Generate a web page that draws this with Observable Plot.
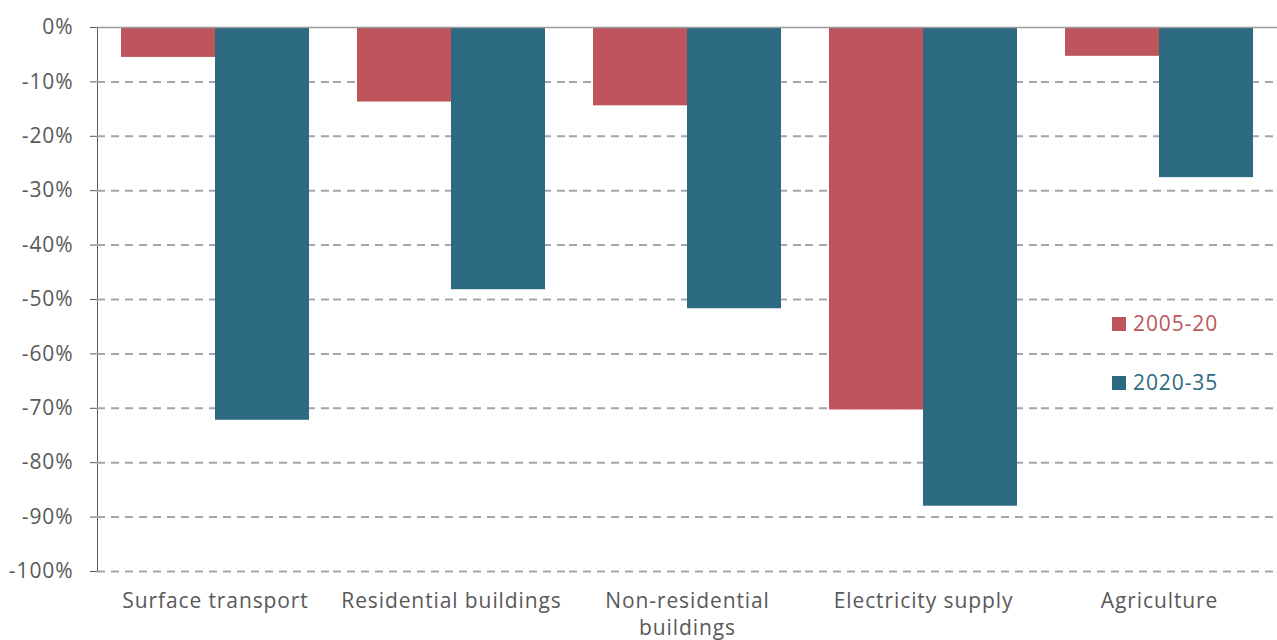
<!DOCTYPE html>
<html>
<head>
<meta charset="utf-8">
<script src="https://cdn.jsdelivr.net/npm/d3@7"></script>
<script src="https://cdn.jsdelivr.net/npm/@observablehq/plot@0.6"></script>
<style>
  html, body { margin: 0; padding: 0; background: #fff; }
  #wrap { position: relative; width: 1277px; height: 640px; }
  #wrap svg text { letter-spacing: 0.9px; }
  .legend { position: absolute; left: 1112px; font-family: "Open Sans", sans-serif; font-size: 21px; letter-spacing: 0.9px; display: flex; align-items: center; line-height: 1; }
  .legend span.sw { display: inline-block; width: 14px; height: 14px; margin-right: 7px; }
</style>
</head>
<body>
<div id="wrap"></div>
<script>
const categories = ["Surface transport", "Residential buildings", "Non-residential buildings", "Electricity supply", "Agriculture"];
const categoryLabels = ["Surface transport", "Residential buildings", "Non-residential\nbuildings", "Electricity supply", "Agriculture"];
const series = ["2005-20", "2020-35"];
const values2005_20 = [-5.5, -13.7, -14.4, -70.3, -5.3];
const values2020_35 = [-72.2, -48.2, -51.7, -88.0, -27.6];
const yTicks = [0, -10, -20, -30, -40, -50, -60, -70, -80, -90, -100];
const colors = ["#BE555D", "#2C6A82"];

const data = [];
categories.forEach((c, i) => {
  data.push({category: c, series: series[0], value: values2005_20[i]});
  data.push({category: c, series: series[1], value: values2020_35[i]});
});
const labelOf = new Map(categories.map((c, i) => [c, categoryLabels[i]]));

const chart = Plot.plot({
  width: 1277,
  height: 640,
  marginLeft: 96,
  marginRight: 0,
  marginTop: 27,
  marginBottom: 69,
  style: {fontFamily: "'Open Sans', sans-serif", fontSize: "21px", color: "#595959", background: "#fff"},
  fx: {domain: categories, padding: 0, label: null},
  x: {domain: series, paddingInner: 0, paddingOuter: 0.25, axis: null},
  y: {domain: [-100, 0], ticks: yTicks, tickFormat: d => d + "%", label: null, tickSize: 7, tickPadding: 17, line: true},
  color: {domain: series, range: colors},
  marks: [
    Plot.ruleY(yTicks.filter(d => d !== 0), {stroke: "#a6a6a6", strokeWidth: 2, strokeDasharray: "8,6", facetAnchor: null}),
    Plot.barY(data, {fx: "category", x: "series", y1: 0, y2: "value", fill: "series"}),
    Plot.ruleY([0], {stroke: "#9a9a9a", strokeWidth: 1.5}),
    Plot.axisFx({anchor: "bottom", tickFormat: d => labelOf.get(d), tickSize: 0, tickPadding: 17, lineHeight: 1.3, fill: "#595959", fontSize: 21, label: null})
  ]
});
const wrap = document.getElementById("wrap");
wrap.appendChild(chart);

series.forEach((s, i) => {
  const d = document.createElement("div");
  d.className = "legend";
  d.style.top = (i === 0 ? 313 : 372) + "px";
  d.style.color = colors[i];
  d.innerHTML = `<span class="sw" style="background:${colors[i]}"></span>${s}`;
  wrap.appendChild(d);
});
</script>
</body>
</html>
